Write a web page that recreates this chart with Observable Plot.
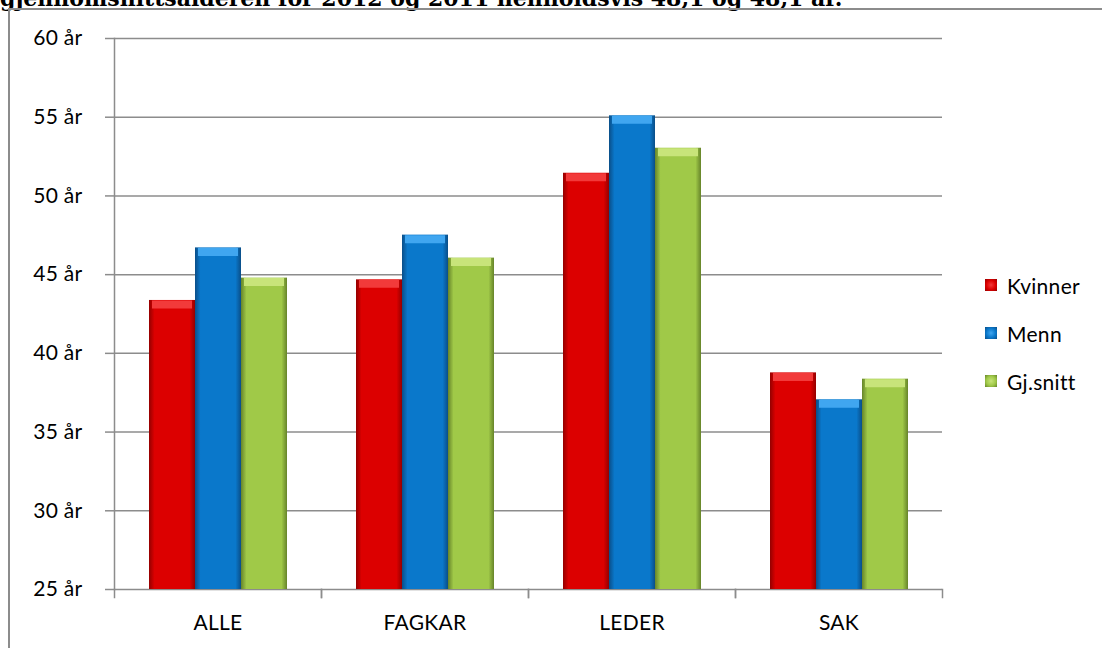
<!DOCTYPE html>
<html>
<head>
<meta charset="utf-8">
<script src="https://cdn.jsdelivr.net/npm/d3@7"></script>
<script src="https://cdn.jsdelivr.net/npm/@observablehq/plot@0.6"></script>
<style>
  html, body { margin: 0; padding: 0; background: #fff; overflow: hidden; width: 1102px; height: 648px; }
  #title { position: absolute; left: 0; top: -13px; font: bold 22px "DejaVu Serif", serif; white-space: nowrap; color: #000; line-height: 22px; }
  #box { position: absolute; left: 8px; top: 8px; width: 1300px; height: 800px; border: 2px solid #8c8c8c; }
  #chart { position: absolute; left: 0; top: 0; }
  #legend { position: absolute; left: 985px; top: 261px; font: 21px Lato, sans-serif; color: #000; letter-spacing: 0.3px; }
  .item { display: flex; align-items: center; height: 48px; }
  .sw { width: 12px; height: 12px; margin-right: 10px; box-sizing: border-box; }
</style>
</head>
<body>
<div id="title">gjennomsnittsalderen for 2012 og 2011 henholdsvis 48,1 og 48,1 år.</div>
<div id="box"></div>
<div id="chart"></div>
<div id="legend"></div>
<script>
const categories = ["ALLE", "FAGKAR", "LEDER", "SAK"];
const series = ["Kvinner", "Menn", "Gj.snitt"];
const kvinner = [43.36, 44.67, 51.44, 38.76];
const menn = [46.70, 47.51, 55.09, 37.05];
const gjsnitt = [44.78, 46.05, 53.03, 38.36];
const yTicks = [25, 30, 35, 40, 45, 50, 55, 60];

const seriesValues = [kvinner, menn, gjsnitt];
const mainColors = ["#dc0000", "#0a78cb", "#a0c948"];
const darkColors = ["#940000", "#0a4e88", "#66842a"];
const topColors = ["#f23a3a", "#40a6f0", "#c8e47a"];

const data = [];
categories.forEach((c, i) => series.forEach((s, j) => data.push({cat: c, s, v: seriesValues[j][i]})));

const defs = () => {
  const d = d3.create("svg:defs");
  series.forEach((s, j) => {
    const g = d.append("linearGradient").attr("id", "g" + j).attr("x1", "0").attr("x2", "1").attr("y1", "0").attr("y2", "0");
    g.append("stop").attr("offset", "0").attr("stop-color", darkColors[j]);
    g.append("stop").attr("offset", "0.12").attr("stop-color", mainColors[j]);
    g.append("stop").attr("offset", "0.88").attr("stop-color", mainColors[j]);
    g.append("stop").attr("offset", "1").attr("stop-color", darkColors[j]);
  });
  return d.node();
};

const chart = Plot.plot({
  width: 1102,
  height: 648,
  marginLeft: 113,
  marginRight: 159,
  marginTop: 38,
  marginBottom: 59,
  style: {fontFamily: "Lato, sans-serif", fontSize: "21px", color: "#000", background: "transparent", overflow: "visible", letterSpacing: "0.3px"},
  fx: {domain: categories, padding: 0, label: null},
  x: {domain: series, paddingInner: 0, paddingOuter: 0.745, axis: null},
  y: {domain: [25, 60], label: null},
  color: {domain: series, range: series.map((s, j) => `url(#g${j})`)},
  marks: [
    defs,
    Plot.gridY(yTicks, {stroke: "#8c8c8c", strokeOpacity: 1, strokeWidth: 1.5}),
    Plot.barY(data, {fx: "cat", x: "s", y1: 25, y2: "v", fill: "s"}),
    Plot.tickY(data, {fx: "cat", x: "s", y: "v", stroke: "s", strokeWidth: 8, dy: 4, insetLeft: 3, insetRight: 3}),
    Plot.axisY(yTicks, {tickSize: 9, tickPadding: 23, stroke: "#8c8c8c", strokeWidth: 1.5, tickFormat: d => `${d} år`, fontSize: 21, fill: "#000", label: null}),
    Plot.axisFx({anchor: "bottom", tickSize: 0, tickPadding: 26, fontSize: 21, fill: "#000", label: null}),
    Plot.frame({anchor: "left", insetTop: 551, insetBottom: -8, stroke: "#8c8c8c", strokeWidth: 1.5}),
    Plot.frame({anchor: "right", insetTop: 551, insetBottom: -8, stroke: "#8c8c8c", strokeWidth: 1.5}),
    Plot.frame({anchor: "left", facet: "super", stroke: "#8c8c8c", strokeWidth: 1.5})
  ]
});
// lighter top bevel colours for the tick mark
d3.select(chart).selectAll("g[aria-label='tick'] line").each(function () {
  const s = this.getAttribute("stroke") || "";
  const j = s.match(/g(\d)/);
  if (j) this.setAttribute("stroke", topColors[+j[1]]);
});
document.getElementById("chart").appendChild(chart);

const legend = d3.select("#legend");
series.forEach((s, j) => {
  const it = legend.append("div").attr("class", "item");
  it.append("div").attr("class", "sw")
    .style("background", `radial-gradient(circle, ${topColors[j]} 0%, ${mainColors[j]} 55%, ${darkColors[j]} 100%)`);
  it.append("span").text(s);
});
</script>
</body>
</html>
